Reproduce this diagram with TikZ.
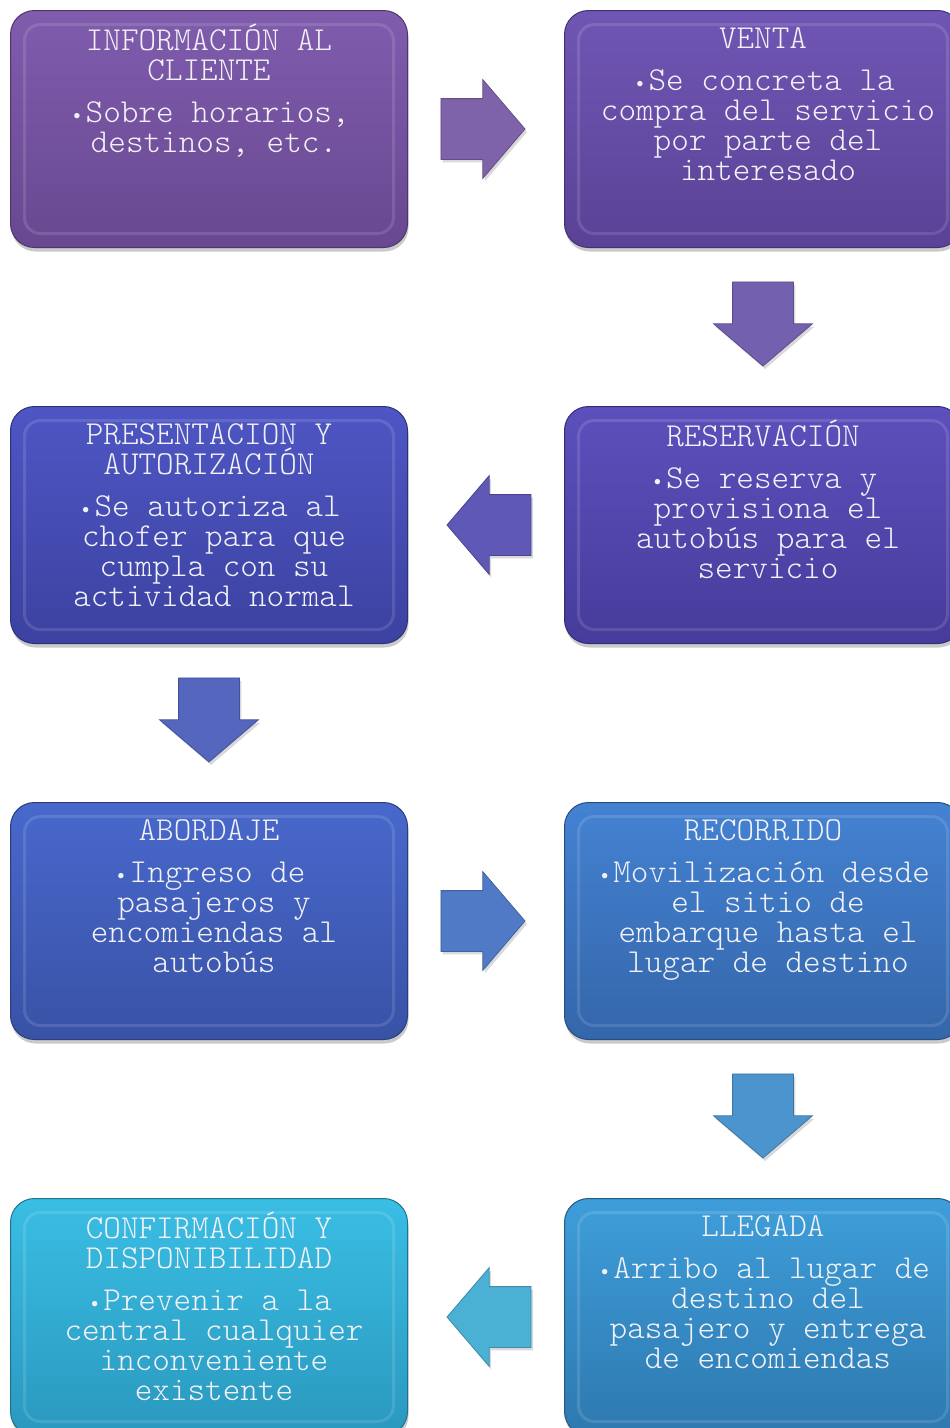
\documentclass[tikz,border=0pt]{standalone}
\usepackage{fontspec}
\newfontfamily\mono{Latin Modern Mono Light}
\usetikzlibrary{
  positioning,
  calc,
  shapes.arrows,
  shadows
}
\definecolor{infoA}{RGB}{128,92,173}
\definecolor{infoB}{RGB}{104,72,145}
\definecolor{ventaA}{RGB}{112,86,180}
\definecolor{ventaB}{RGB}{90,66,150}
\definecolor{reservaA}{RGB}{92,80,188}
\definecolor{reservaB}{RGB}{70,60,155}
\definecolor{presentaA}{RGB}{78,86,196}
\definecolor{presentaB}{RGB}{60,66,160}
\definecolor{abordaA}{RGB}{72,104,204}
\definecolor{abordaB}{RGB}{56,82,165}
\definecolor{recorreA}{RGB}{68,130,210}
\definecolor{recorreB}{RGB}{52,102,170}
\definecolor{llegaA}{RGB}{62,158,218}
\definecolor{llegaB}{RGB}{46,120,175}
\definecolor{confirmaA}{RGB}{58,190,228}
\definecolor{confirmaB}{RGB}{42,152,190}
\definecolor{flechaA}{RGB}{126,98,170}
\definecolor{flechaB}{RGB}{115,96,175}
\definecolor{flechaC}{RGB}{95,88,182}
\definecolor{flechaD}{RGB}{84,102,190}
\definecolor{flechaE}{RGB}{80,122,198}
\definecolor{flechaF}{RGB}{76,148,205}
\definecolor{flechaG}{RGB}{74,176,212}
\definecolor{letra}{RGB}{242,242,246}
\newcommand{\sang}{\hspace*{10pt}}
\newcommand{\punto}{{\rmfamily\fontsize{24}{30}\selectfont •}}

\begin{document}
\begin{tikzpicture}[
            x=1pt, y=-1pt,
            caja/.style 2 args={draw=#2!75!black, line width=1pt, top color=#1, bottom color=#2,
                rounded corners=24pt, minimum width=397pt, minimum height=237pt,
                drop shadow={shadow xshift=1pt, shadow yshift=-4pt, opacity=.35, fill=black!60},
                path picture={\draw[white, opacity=.12, line width=3pt, rounded corners=16pt]
                    ([shift={(14pt,-14pt)}]path picture bounding box.north west) rectangle
                    ([shift={(-14pt,14pt)}]path picture bounding box.south east);}},
            txt/.style={text=letra, align=center, inner sep=0pt, anchor=north,
                font=\mono\fontsize{33.5}{30}\selectfont},
            flecha/.style 2 args={single arrow, fill=#1, draw=#1!80!black, line width=.8pt,
                minimum height=84pt, inner xsep=0pt, inner ysep=30pt,
                single arrow head extend=19pt, single arrow tip angle=99,
                rotate=#2, xshift=-16pt,
                drop shadow={shadow xshift=2pt, shadow yshift=-3pt, opacity=.25, fill=black!60}}
        ]
            \useasboundingbox (0,0) rectangle (950,1428);
            \clip (0,0) rectangle (950,1428);
            % process steps
            \node[caja={infoA}{infoB}, anchor=north west] (info) at (10,10) {};
            \node[caja={ventaA}{ventaB}, right=156pt of info] (venta) {};
            \node[caja={reservaA}{reservaB}, below=158pt of venta] (reserva) {};
            \node[caja={presentaA}{presentaB}, left=156pt of reserva] (presenta) {};
            \node[caja={abordaA}{abordaB}, below=158pt of presenta] (aborda) {};
            \node[caja={recorreA}{recorreB}, right=156pt of aborda] (recorre) {};
            \node[caja={llegaA}{llegaB}, below=158pt of recorre] (llega) {};
            \node[caja={confirmaA}{confirmaB}, left=156pt of llega] (confirma) {};
            % texts
            \node[txt, below=14pt of info.north] (tinfo) {\rule{0pt}{24pt}INFORMACIÓN AL\\CLIENTE\\[12pt]\punto Sobre horarios,\\\sang destinos, etc.};
            \node[txt, below=14pt of venta.north] (tventa) {\rule{0pt}{24pt}VENTA\\[12pt]\punto Se concreta la\\\sang compra del servicio\\\sang por parte del\\\sang interesado};
            \node[txt, below=14pt of reserva.north] (treserva) {\rule{0pt}{24pt}RESERVACIÓN\\[12pt]\punto Se reserva y\\\sang provisiona el\\\sang autobús para el\\\sang servicio};
            \node[txt, below=14pt of presenta.north] (tpresenta) {\rule{0pt}{24pt}PRESENTACION Y\\AUTORIZACIÓN\\[12pt]\punto Se autoriza al\\\sang chofer para que\\\sang cumpla con su\\\sang actividad normal};
            \node[txt, below=14pt of aborda.north] (taborda) {\rule{0pt}{24pt}ABORDAJE\\[12pt]\punto Ingreso de\\\sang pasajeros y\\\sang encomiendas al\\\sang autobús};
            \node[txt, below=14pt of recorre.north] (trecorre) {\rule{0pt}{24pt}RECORRIDO\\[12pt]\punto Movilización desde\\\sang el sitio de\\\sang embarque hasta el\\\sang lugar de destino};
            \node[txt, below=14pt of llega.north] (tllega) {\rule{0pt}{24pt}LLEGADA\\[12pt]\punto Arribo al lugar de\\\sang destino del\\\sang pasajero y entrega\\\sang de encomiendas};
            \node[txt, below=14pt of confirma.north] (tconfirma) {\rule{0pt}{24pt}CONFIRMACIÓN Y\\DISPONIBILIDAD\\[12pt]\punto Prevenir a la\\\sang central cualquier\\\sang inconveniente\\\sang existente};
            % block arrows between steps
            \node[flecha={flechaA}{0}] (f1) at ($(info.east)!0.5!(venta.west)$) {};
            \node[flecha={flechaB}{-90}] (f2) at ($(venta.south)!0.5!(reserva.north)$) {};
            \node[flecha={flechaC}{180}] (f3) at ($(reserva.west)!0.5!(presenta.east)$) {};
            \node[flecha={flechaD}{-90}] (f4) at ($(presenta.south)!0.5!(aborda.north)$) {};
            \node[flecha={flechaE}{0}] (f5) at ($(aborda.east)!0.5!(recorre.west)$) {};
            \node[flecha={flechaF}{-90}] (f6) at ($(recorre.south)!0.5!(llega.north)$) {};
            \node[flecha={flechaG}{180}] (f7) at ($(llega.west)!0.5!(confirma.east)$) {};
        \end{tikzpicture}
\end{document}
